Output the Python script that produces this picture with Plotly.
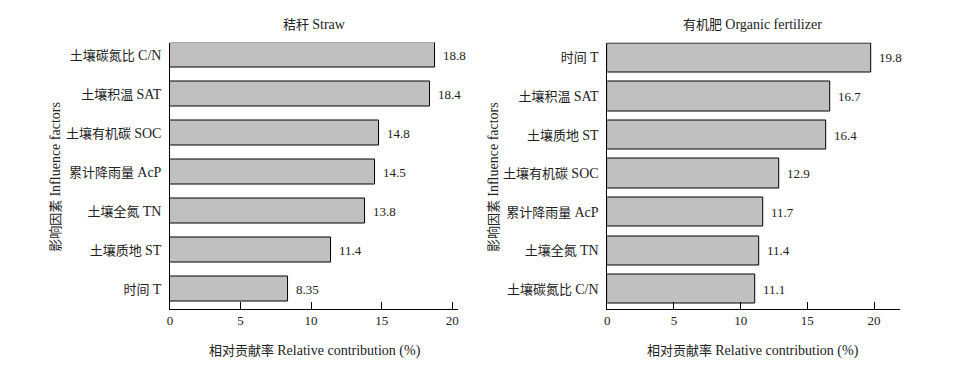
import plotly.graph_objects as go

# Straw panel (top to bottom)
straw_factors = ["土壤碳氮比 C/N", "土壤积温 SAT", "土壤有机碳 SOC", "累计降雨量 AcP",
                 "土壤全氮 TN", "土壤质地 ST", "时间 T"]
straw_values = [18.8, 18.4, 14.8, 14.5, 13.8, 11.4, 8.35]
straw_labels = ["18.8", "18.4", "14.8", "14.5", "13.8", "11.4", "8.35"]

# Organic fertilizer panel (top to bottom)
org_factors = ["时间 T", "土壤积温 SAT", "土壤质地 ST", "土壤有机碳 SOC",
               "累计降雨量 AcP", "土壤全氮 TN", "土壤碳氮比 C/N"]
org_values = [19.8, 16.7, 16.4, 12.9, 11.7, 11.4, 11.1]
org_labels = ["19.8", "16.7", "16.4", "12.9", "11.7", "11.4", "11.1"]

x_ticks = [0, 5, 10, 15, 20]

FONT = "Liberation Serif, Times New Roman, Noto Sans CJK SC, serif"
TXT = "#222222"

# page body has an 8px margin; figure is sized to fit in the window
W, H = 957, 362
OFF = 8


def px(x):
    return (x - OFF) / W


def py(y):
    return 1 - (y - OFF) / H


LAT = '<span style="font-size:14px">%s</span>'


def fmt(label):
    zh, en = label.split(" ", 1)
    return zh + " " + LAT % en


fig = go.Figure()


def add_panel(factors, values, labels, xa, ya, width):
    n = len(factors)
    ypos = list(range(n - 1, -1, -1))
    fig.add_trace(go.Bar(
        x=values, y=ypos, orientation="h",
        marker=dict(color="#c0c0c0", line=dict(color="#000000", width=1)),
        width=width,
        xaxis=xa, yaxis=ya, showlegend=False, hoverinfo="x+y",
    ))
    for v, yy, lab in zip(values, ypos, labels):
        fig.add_annotation(x=v, y=yy, xref=xa, yref=ya, text=lab, showarrow=False,
                           xanchor="left", yanchor="middle", xshift=6,
                           font=dict(family=FONT, size=13, color=TXT))
    return ypos


yp1 = add_panel(straw_factors, straw_values, straw_labels, "x", "y", 0.64)
yp2 = add_panel(org_factors, org_values, org_labels, "x2", "y2", 0.76)

axis_common = dict(showgrid=False, zeroline=False, showline=True, linecolor="#000000",
                   linewidth=1, tickfont=dict(family=FONT, size=13, color=TXT))

ydom = [py(308.5), py(42.5)]

fig.update_layout(
    width=W, height=H,
    margin=dict(l=0, r=0, t=0, b=0),
    paper_bgcolor="white", plot_bgcolor="white",
    font=dict(family=FONT, size=13, color=TXT),
    bargap=0,
    xaxis=dict(domain=[px(167.7), px(456.7)], range=[0, 20.4], tickvals=x_ticks,
               ticks="inside", ticklen=7, tickcolor="#000", anchor="y", **axis_common),
    yaxis=dict(domain=ydom, range=[-0.5, 6.33], tickvals=yp1,
               ticktext=[fmt(f) for f in straw_factors],
               ticks="", anchor="x", ticklabelstandoff=5, **axis_common),
    xaxis2=dict(domain=[px(606.7), px(900.7)], range=[0, 21.94], tickvals=x_ticks,
                ticks="inside", ticklen=7, tickcolor="#000", anchor="y2", **axis_common),
    yaxis2=dict(domain=ydom, range=[-0.5, 6.4], tickvals=yp2,
                ticktext=[fmt(f) for f in org_factors],
                ticks="", anchor="x2", ticklabelstandoff=5, **axis_common),
)

annots = [
    dict(text="秸秆 " + LAT % "Straw", x=px(313), y=py(24)),
    dict(text="有机肥 " + LAT % "Organic fertilizer", x=px(753), y=py(24)),
    dict(text="相对贡献率 " + LAT % "Relative contribution (%)", x=px(313), y=py(351)),
    dict(text="相对贡献率 " + LAT % "Relative contribution (%)", x=px(753), y=py(351)),
    dict(text="影响因素 " + LAT % "Influence factors", x=px(52), y=py(177), textangle=-90),
    dict(text="影响因素 " + LAT % "Influence factors", x=px(492), y=py(177), textangle=-90),
]
for a in annots:
    fig.add_annotation(xref="paper", yref="paper", showarrow=False,
                       xanchor="center", yanchor="middle",
                       font=dict(family=FONT, size=13, color=TXT), **a)

fig.write_html("out.html")
